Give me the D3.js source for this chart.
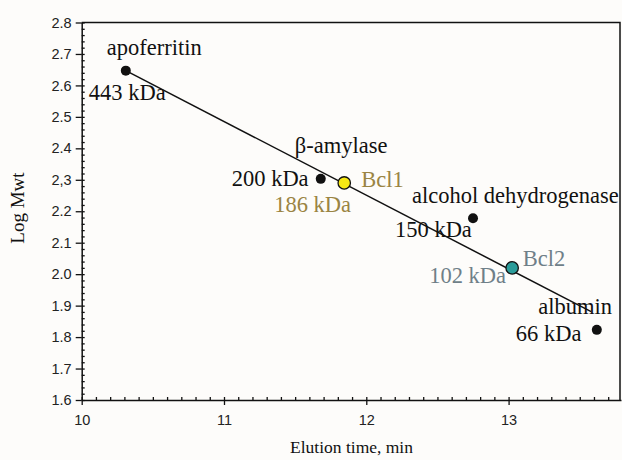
<!DOCTYPE html>
<html>
<head>
<meta charset="utf-8">
<script src="https://cdn.jsdelivr.net/npm/d3@7"></script>
<style>
  body { margin: 0; background: #fdfcfa; }
  svg { display: block; }
</style>
</head>
<body>
<script>
var w = 622;
var h = 460;

// calibration proteins and samples
var names = ["apoferritin", "β-amylase", "Bcl1", "alcohol dehydrogenase", "Bcl2", "albumin"];
var masses = ["443 kDa", "200 kDa", "186 kDa", "150 kDa", "102 kDa", "66 kDa"];
var elution = [10.31, 11.68, 11.845, 12.75, 13.025, 13.62];
var logMwt = [2.647, 2.303, 2.29, 2.178, 2.02, 1.823];
var fills = ["#111", "#111", "#f7e814", "#111", "#2a9c9a", "#111"];
var labelColors = ["#111", "#111", "#9a8443", "#111", "#6f7f88", "#111"];

// fit line end points
var fitX = [10.31, 13.58];
var fitY = [2.647, 1.881];

var xTicks = [10, 11, 12, 13];
var yTicks = [1.6, 1.7, 1.8, 1.9, 2.0, 2.1, 2.2, 2.3, 2.4, 2.5, 2.6, 2.7, 2.8];
var yTickLabels = ["1.6", "1.7", "1.8", "1.9", "2.0", "2.1", "2.2", "2,3", "2.4", "2.5", "2.6", "2.7", "2.8"];

var padL = 81.7, padR = 621, padT = 22.5, padB = 400;

var x = d3.scaleLinear().domain([10, 13.79]).range([padL, padR]);
var y = d3.scaleLinear().domain([1.6, 2.8]).range([padB, padT]);

var svg = d3.select("body")
    .append("svg")
    .attr("width", w)
    .attr("height", h);

svg.append("rect")
    .attr("width", w)
    .attr("height", h)
    .attr("fill", "#fdfcfa");

// frame top and right
svg.append("path")
    .attr("d", "M" + padL + "," + padT + "H" + (padR - 1) + "V" + padB)
    .attr("fill", "none")
    .attr("stroke", "#111")
    .attr("stroke-width", 1.5);

// minor ticks
var xMinor = d3.range(100, 138).map(function (d) { return d / 10; });
var yMinor = d3.range(80, 141).map(function (d) { return d / 50; });

var xAxis = svg.append("g")
    .attr("transform", "translate(0," + padB + ")")
    .call(d3.axisBottom(x).tickValues(xTicks).tickFormat(d3.format("d")).tickSize(5).tickSizeOuter(0));

svg.append("g")
    .attr("transform", "translate(0," + padB + ")")
    .call(d3.axisTop(x).tickValues(xMinor).tickFormat("").tickSize(3).tickSizeOuter(0))
    .select(".domain").remove();

var yAxis = svg.append("g")
    .attr("transform", "translate(" + padL + ",0)")
    .call(d3.axisLeft(y).tickValues(yTicks)
        .tickFormat(function (d, i) { return yTickLabels[i]; })
        .tickSize(6).tickSizeOuter(0));

svg.append("g")
    .attr("transform", "translate(" + padL + ",0)")
    .call(d3.axisRight(y).tickValues(yMinor).tickFormat("").tickSize(3).tickSizeOuter(0))
    .select(".domain").remove();

svg.selectAll(".domain").attr("stroke", "#111").attr("stroke-width", 1.5);
svg.selectAll(".tick line").attr("stroke", "#111").attr("stroke-width", 1.3);

xAxis.selectAll("text")
    .attr("dy", "1.15em")
    .style("font-family", "Liberation Sans, Arial, sans-serif")
    .style("font-size", "14.5px")
    .attr("fill", "#222");

yAxis.selectAll("text")
    .attr("x", -10)
    .style("font-family", "Liberation Sans, Arial, sans-serif")
    .style("font-size", "14.5px")
    .attr("fill", "#222");

var serif = "Liberation Serif, Times New Roman, serif";

// axis titles
svg.append("text")
    .attr("x", 351.5)
    .attr("y", 453)
    .attr("text-anchor", "middle")
    .style("font-family", serif)
    .style("font-size", "17.5px")
    .attr("fill", "#111")
    .text("Elution time, min");

svg.append("text")
    .attr("transform", "translate(24,208) rotate(-90)")
    .attr("text-anchor", "middle")
    .style("font-family", serif)
    .style("font-size", "19px")
    .attr("fill", "#111")
    .text("Log Mwt");

// regression line
svg.append("line")
    .attr("x1", x(fitX[0]))
    .attr("y1", y(fitY[0]))
    .attr("x2", x(fitX[1]))
    .attr("y2", y(fitY[1]))
    .attr("stroke", "#111")
    .attr("stroke-width", 1.5);

// points
svg.selectAll("circle.pt")
    .data(elution)
    .enter()
    .append("circle")
    .attr("class", "pt")
    .attr("cx", function (d) { return x(d); })
    .attr("cy", function (d, i) { return y(logMwt[i]); })
    .attr("r", function (d, i) { return fills[i] == "#111" ? 5 : 6.2; })
    .attr("fill", function (d, i) { return fills[i]; })
    .attr("stroke", "#111")
    .attr("stroke-width", function (d, i) { return fills[i] == "#111" ? 0 : 1.3; });

// labels: name offset and mass offset relative to point
var nameOff = [[-19, -15.5], [-26, -26], [17, 4], [-61, -15], [10.5, -2], [-58.5, -15.5]];
var massOff = [[-37, 29.5], [-89, 7.5], [-70, 29], [-78, 18.5], [-83, 15], [-81, 11]];

svg.selectAll("text.name")
    .data(names)
    .enter()
    .append("text")
    .attr("class", "name")
    .attr("x", function (d, i) { return x(elution[i]) + nameOff[i][0]; })
    .attr("y", function (d, i) { return y(logMwt[i]) + nameOff[i][1]; })
    .style("font-family", serif)
    .style("font-size", "22.5px")
    .attr("fill", function (d, i) { return labelColors[i]; })
    .text(function (d) { return d; });

svg.selectAll("text.mass")
    .data(masses)
    .enter()
    .append("text")
    .attr("class", "mass")
    .attr("x", function (d, i) { return x(elution[i]) + massOff[i][0]; })
    .attr("y", function (d, i) { return y(logMwt[i]) + massOff[i][1]; })
    .style("font-family", serif)
    .style("font-size", "22.5px")
    .attr("fill", function (d, i) { return labelColors[i]; })
    .text(function (d) { return d; });
</script>
</body>
</html>
